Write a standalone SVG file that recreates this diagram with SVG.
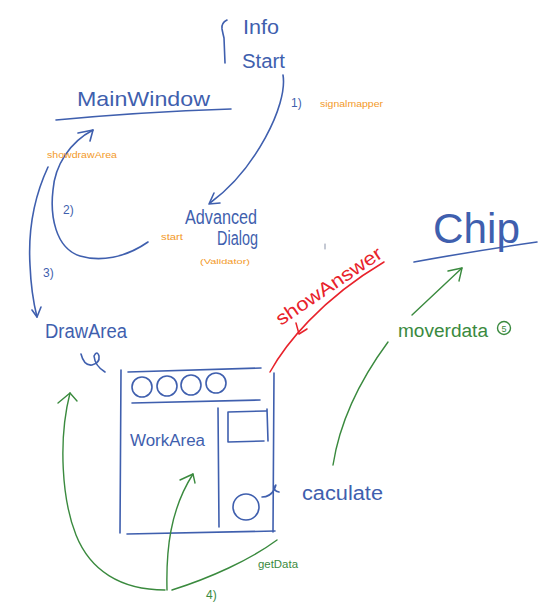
<svg xmlns="http://www.w3.org/2000/svg" width="554" height="609" viewBox="0 0 554 609">
<style>
  .b{fill:none;stroke:#3f5fae;stroke-width:1.6;stroke-linecap:round;stroke-linejoin:round}
  .g{fill:none;stroke:#3a8a3e;stroke-width:1.4;stroke-linecap:round;stroke-linejoin:round}
  .r{fill:none;stroke:#e8222b;stroke-width:1.5;stroke-linecap:round;stroke-linejoin:round}
  text{font-family:"Liberation Sans","DejaVu Sans",sans-serif}
  .tb{fill:#3f5fae}
  .to{fill:#f39a2a}
  .tg{fill:#3a8a3e}
  .tr{fill:#e8222b}
</style>
<rect width="554" height="609" fill="#ffffff"/>

<g id="info-start">
  <path class="b" d="M227,20 Q221,23 222,29 Q223,34 224,38 L225,63"/>
  <text class="tb" x="243" y="34" font-size="20" textLength="36" lengthAdjust="spacingAndGlyphs">Info</text>
  <text class="tb" x="242" y="68" font-size="20" textLength="43" lengthAdjust="spacingAndGlyphs">Start</text>
</g>

<g id="mainwindow">
  <text class="tb" x="77" y="106" font-size="21" textLength="133" lengthAdjust="spacingAndGlyphs">MainWindow</text>
  <path class="b" d="M56,120 Q140,112 231,109"/>
</g>

<g id="advanced-dialog">
  <text class="tb" x="185" y="224" font-size="20" textLength="72" lengthAdjust="spacingAndGlyphs">Advanced</text>
  <text class="tb" x="217" y="245" font-size="20" textLength="41" lengthAdjust="spacingAndGlyphs">Dialog</text>
  <text class="to" x="200" y="264" font-size="8" textLength="50" lengthAdjust="spacingAndGlyphs">(Validator)</text>
</g>

<g id="drawarea">
  <text class="tb" x="45" y="338" font-size="20" textLength="82" lengthAdjust="spacingAndGlyphs">DrawArea</text>
  <path class="b" d="M81,354 Q84,366 92,365 Q100,363 99,356 Q97,350 94,356 Q95,366 105,372"/>
</g>

<g id="workarea">
  <path class="b" d="M121,370 L120,533"/>
  <path class="b" d="M128,372 L261,368"/>
  <path class="b" d="M274,373 L273,532"/>
  <path class="b" d="M127,534 L275,531"/>
  <path class="b" d="M132,403 L260,400"/>
  <path class="b" d="M218,408 L219,527"/>
  <circle class="b" cx="142" cy="387" r="10"/>
  <circle class="b" cx="167" cy="386" r="10"/>
  <circle class="b" cx="191" cy="385" r="10"/>
  <circle class="b" cx="216" cy="383" r="10"/>
  <path class="b" d="M228,412 L266,411 M228,412 L228,442 L264,441 M267,409 L268,441"/>
  <circle class="b" cx="246" cy="507" r="13"/>
  <path class="b" d="M262,497 Q270,497 274,490 Q277,483 275,486 Q273,491 279,492"/>
  <text class="tb" x="130" y="446" font-size="16" textLength="75" lengthAdjust="spacingAndGlyphs">WorkArea</text>
</g>

<g id="chip">
  <text class="tb" x="433" y="243" font-size="43" textLength="87" lengthAdjust="spacingAndGlyphs">Chip</text>
  <path class="b" d="M414,262 Q480,250 537,242"/>
</g>

<g id="caculate">
  <text class="tb" x="302" y="500" font-size="20" textLength="81" lengthAdjust="spacingAndGlyphs">caculate</text>
</g>

<g id="connectors">
  <!-- 1) Start -> AdvancedDialog -->
  <path class="b" d="M283,75 C288,105 255,170 210,203"/>
  <path class="b" d="M214,193 L209,204 L220,203"/>
  <text class="tb" x="291" y="107" font-size="12">1)</text>
  <text class="to" x="320" y="107" font-size="9" textLength="63" lengthAdjust="spacingAndGlyphs">signalmapper</text>

  <!-- 2) AdvancedDialog -> MainWindow -->
  <path class="b" d="M148,242 C125,258 100,262 80,256 C55,248 50,215 53,190 C55,165 70,142 93,130"/>
  <path class="b" d="M78,133 L93,130 L90,141"/>
  <text class="tb" x="63" y="214" font-size="12">2)</text>
  <text class="to" x="161" y="240" font-size="9" textLength="22" lengthAdjust="spacingAndGlyphs">start</text>

  <!-- 3) MainWindow -> DrawArea -->
  <path class="b" d="M48,167 C35,195 28,230 30,265 C31,290 34,305 37,317"/>
  <path class="b" d="M32,310 L37,317 L41,307"/>
  <text class="tb" x="43" y="277" font-size="12">3)</text>
  <text class="to" x="47" y="158" font-size="9" textLength="70" lengthAdjust="spacingAndGlyphs">showdrawArea</text>

  <!-- showAnswer (red) -->
  <path class="r" d="M270,372 C285,345 320,300 384,262"/>
  <path class="r" d="M296,323 L299,334 L307,329"/>
  <text class="tr" x="0" y="0" font-size="19" textLength="124" lengthAdjust="spacingAndGlyphs" transform="translate(281,326) rotate(-34)">showAnswer</text>
  <path d="M325,244 L325,249" fill="none" stroke="#8a93a8" stroke-width="1" stroke-linecap="round"/>

  <!-- moverdata (green) -->
  <path class="g" d="M333,465 C340,420 360,380 388,342"/>
  <path class="g" d="M412,315 L462,268"/>
  <path class="g" d="M448,271 L462,268 L459,281"/>
  <text class="tg" x="398" y="337" font-size="18" textLength="90" lengthAdjust="spacingAndGlyphs">moverdata</text>
  <circle class="g" cx="504" cy="328" r="6.5"/>
  <text class="tg" x="504" y="331.5" font-size="9" text-anchor="middle">5</text>

  <!-- 4) getData (green) -->
  <path class="g" d="M165,590 C120,590 90,570 76,535 C62,500 58,440 70,393"/>
  <path class="g" d="M58,403 L70,393 L77,401"/>
  <path class="g" d="M167,590 C166,550 170,510 193,474"/>
  <path class="g" d="M180,480 L193,474 L195,483"/>
  <path class="g" d="M172,590 C210,578 250,560 277,540"/>
  <text class="tg" x="258" y="568" font-size="10" textLength="40" lengthAdjust="spacingAndGlyphs">getData</text>
  <text class="tg" x="206" y="599" font-size="12">4)</text>
</g>
</svg>
